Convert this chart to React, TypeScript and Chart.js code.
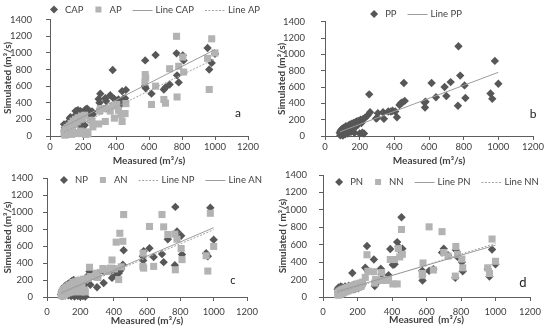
import React, { useEffect, useRef } from 'react';
import { Chart, registerables } from 'chart.js';

Chart.register(...registerables);

// ---------------- DATA ----------------
const measured = [
  85, 88, 90, 92, 95, 98, 100, 103, 106, 110,
  113, 116, 120, 124, 128, 132, 136, 140, 145, 150,
  155, 160, 165, 170, 175, 180, 185, 190, 195, 200,
  205, 210, 215, 220, 225, 230,
  245, 255, 260, 295, 300, 305, 335, 340, 365, 380,
  390, 405, 415, 430, 437, 445, 455, 460, 575, 577,
  580, 615, 640, 690, 700, 725, 767, 770, 780, 805,
  810, 955, 965, 980, 1000,
];

const simCAP = [
  140, 60, 100, 80, 120, 50, 90, 150, 70, 130,
  60, 170, 215, 225, 140, 100, 180, 160, 200, 240,
  300, 250, 305, 310, 260, 120, 300, 110, 125, 135,
  280, 130, 320, 300, 330, 260,
  250, 295, 260, 445, 400, 510, 455, 420, 490, 795,
  445, 425, 440, 380, 540, 450, 455, 555, 600, 910,
  575, 510, 975, 560, 585, 620, 995, 730, 645, 970,
  910, 1060, 800, 880, 990,
];
const simAP = [
  40, 20, 60, 10, 80, 30, 50, 100, 20, 70,
  40, 120, 30, 90, 150, 20, 60, 180, 40, 140,
  200, 30, 170, 220, 30, 200, 60, 240, 30, 210,
  40, 250, 20, 50, 30, 25,
  190, 180, 110, 145, 300, 330, 175, 330, 300, 360,
  215, 380, 310, 260, 175, 270, 270, 390, 650, 740,
  700, 380, 600, 440, 395, 810, 1200, 470, 840, 950,
  770, 935, 560, 1170, 1000,
];
const simPP = [
  40, 10, 60, 20, 80, 30, 70, 5, 100, 40,
  90, 20, 120, 60, 110, 30, 130, 80, 140, 50,
  150, 100, 160, 40, 170, 120, 180, 140, 185, 30,
  200, 160, 40, 210, 30, 220,
  250, 510, 290, 215, 220, 280, 290, 210, 300, 300,
  310, 300, 230, 380, 400, 410, 650, 430, 410, 350,
  420, 650, 475, 600, 490, 660, 370, 1100, 740, 620,
  465, 520, 455, 920, 640,
];
const simNP = [
  30, 60, 10, 80, 40, 100, 20, 120, 60, 130,
  30, 140, 80, 150, 20, 160, 100, 170, 10, 190,
  120, 200, 5, 160, 140, 180, 10, 170, 150, 5,
  190, 130, 10, 200, 140, 5,
  250, 300, 145, 260, 115, 280, 310, 165, 310, 300,
  225, 330, 260, 280, 305, 330, 380, 550, 480, 430,
  540, 575, 470, 505, 410, 680, 375, 1060, 770, 720,
  500, 515, 480, 1050, 675,
];
const simAN = [
  20, 50, 30, 70, 10, 40, 90, 60, 30, 110,
  70, 40, 120, 90, 50, 140, 110, 60, 150, 80,
  170, 120, 60, 180, 100, 70, 190, 130, 80, 200,
  60, 150, 70, 210, 80, 60,
  220, 350, 240, 280, 250, 230, 335, 320, 300, 340,
  435, 330, 645, 205, 750, 355, 655, 970, 360, 515,
  340, 830, 360, 970, 825, 735, 740, 320, 680, 570,
  440, 485, 305, 985, 595,
];
const simPN = [
  90, 60, 110, 40, 80, 100, 50, 120, 70, 90,
  110, 60, 100, 80, 120, 90, 70, 110, 100, 130,
  80, 120, 110, 275, 100, 140, 90, 130, 110, 150,
  100, 140, 120, 160, 130, 150,
  335, 585, 300, 430, 125, 150, 325, 260, 200, 250,
  550, 370, 375, 630, 580, 540, 915, 555, 300, 190,
  290, 300, 320, 510, 555, 480, 220, 540, 460, 400,
  295, 320, 235, 545, 375,
];
const simNN = [
  30, 50, 20, 60, 40, 70, 30, 50, 80, 40,
  60, 90, 50, 70, 100, 60, 80, 110, 70, 90,
  120, 80, 100, 130, 90, 110, 140, 100, 120, 150,
  110, 130, 160, 120, 140, 170,
  225, 485, 295, 290, 160, 200, 190, 280, 190, 200,
  430, 150, 430, 150, 555, 460, 775, 490, 250, 270,
  390, 805, 310, 750, 510, 470, 240, 580, 490, 435,
  335, 335, 270, 665, 410,
];

// trend line end points (measured range)
const lineX = [85, 1000];
const lineCAP = [113, 1040];
const lineAP = [45, 930];
const linePP = [50, 780];
const lineNP = [40, 790];
const lineAN = [50, 815];
const linePN = [65, 595];
const lineNN = [50, 615];

const xTicks = { min: 0, max: 1200, step: 200 };
const yTicks = { min: 0, max: 1400, step: 200 };

// ---------------- STYLE ----------------
const FONT = 'Lato';
const DARK = '#575757';
const LIGHT = '#b3b3b3';
const LINE_SOLID = '#9c9c9c';
const LINE_DOT = '#a3a3a3';
const AXIS = '#5e5e5e';
const TEXT = '#404040';
const W = 550;
const H = 329;

type Series = { label: string; values: number[]; kind: 'diamond' | 'square' };
type TLine = { label: string; ends: number[]; dotted: boolean };
type PanelCfg = {
  series: Series[];
  lines: TLine[];
  area: { left: number; right: number; top: number; bottom: number };
  yAxisW: number;
  xAxisH: number;
  yTickPad: number;
  xTickPad: number;
  yTitle: string;
  xTitle: string;
  legend: { cx: number; cy: number };
  letter: { text: string; x: number; y: number; size: number };
};

const panels: PanelCfg[] = [
  {
    series: [
      { label: 'CAP', values: simCAP, kind: 'diamond' },
      { label: 'AP', values: simAP, kind: 'square' },
    ],
    lines: [
      { label: 'Line CAP', ends: lineCAP, dotted: false },
      { label: 'Line AP', ends: lineAP, dotted: true },
    ],
    area: { left: 50, right: 248, top: 7, bottom: 136 },
    yAxisW: 48, xAxisH: 31, yTickPad: 14, xTickPad: 1,
    yTitle: 'Simulated (m³/s)', xTitle: 'Measured (m³/s)',
    legend: { cx: 155, cy: 9.5 },
    letter: { text: 'a', x: 238, y: 113, size: 12 },
  },
  {
    series: [{ label: 'PP', values: simPP, kind: 'diamond' }],
    lines: [{ label: 'Line PP', ends: linePP, dotted: false }],
    area: { left: 325, right: 533, top: 7, bottom: 136 },
    yAxisW: 49, xAxisH: 31, yTickPad: 16, xTickPad: 1,
    yTitle: 'Simulated (m³/s)', xTitle: 'Measured (m³/s)',
    legend: { cx: 416, cy: 14 },
    letter: { text: 'b', x: 533, y: 114, size: 12 },
  },
  {
    series: [
      { label: 'NP', values: simNP, kind: 'diamond' },
      { label: 'AN', values: simAN, kind: 'square' },
    ],
    lines: [
      { label: 'Line NP', ends: lineNP, dotted: true },
      { label: 'Line AN', ends: lineAN, dotted: false },
    ],
    area: { left: 47, right: 247, top: 178, bottom: 297 },
    yAxisW: 45, xAxisH: 30, yTickPad: 10, xTickPad: 5,
    yTitle: 'Simulated (m³/s)', xTitle: 'Measured (m³/s)',
    legend: { cx: 161, cy: 180 },
    letter: { text: 'c', x: 233, y: 280, size: 11 },
  },
  {
    series: [
      { label: 'PN', values: simPN, kind: 'diamond' },
      { label: 'NN', values: simNN, kind: 'square' },
    ],
    lines: [
      { label: 'Line PN', ends: linePN, dotted: false },
      { label: 'Line NN', ends: lineNN, dotted: true },
    ],
    area: { left: 323, right: 530, top: 175, bottom: 297 },
    yAxisW: 46, xAxisH: 29, yTickPad: 12, xTickPad: 5,
    yTitle: 'Simulated ( m³/s)', xTitle: 'Measured  (m³/s)',
    legend: { cx: 437, cy: 182 },
    letter: { text: 'd', x: 523, y: 283, size: 13 },
  },
];

// ---------------- PLUGINS ----------------
const panelLegend = {
  id: 'panelLegend',
  afterDraw(chart: any, _args: any, opts: any) {
    const { ctx } = chart;
    ctx.save();
    ctx.font = `${opts.fontSize}px ${FONT}`;
    ctx.textBaseline = 'middle';
    ctx.textAlign = 'left';
    const GAP = 11;
    const items = chart.data.datasets.map((ds: any) => {
      const isLine = !!ds.showLine;
      const mw = isLine ? 20 : 8;
      const gap = isLine ? 3 : 7;
      const tw = ctx.measureText(ds.label).width;
      return { ds, isLine, mw, gap, w: mw + gap + tw };
    });
    const total = items.reduce((s: number, it: any) => s + it.w, 0) + GAP * (items.length - 1);
    let x = opts.cx - total / 2;
    const y = opts.cy;
    for (const it of items) {
      const ds = it.ds;
      if (it.isLine) {
        ctx.beginPath();
        ctx.strokeStyle = ds.borderColor;
        ctx.lineWidth = ds.borderWidth;
        ctx.setLineDash(ds.borderDash || []);
        ctx.moveTo(x, Math.round(y) + 0.5);
        ctx.lineTo(x + it.mw, Math.round(y) + 0.5);
        ctx.stroke();
        ctx.setLineDash([]);
      } else if (ds.pointStyle === 'rectRot') {
        const cx = x + it.mw / 2;
        const r = 4;
        ctx.beginPath();
        ctx.moveTo(cx, y - r);
        ctx.lineTo(cx + r, y);
        ctx.lineTo(cx, y + r);
        ctx.lineTo(cx - r, y);
        ctx.closePath();
        ctx.fillStyle = ds.backgroundColor;
        ctx.fill();
      } else {
        ctx.fillStyle = ds.backgroundColor;
        ctx.fillRect(x + 1, y - 3, 6, 6);
      }
      ctx.fillStyle = opts.color;
      ctx.fillText(ds.label, x + it.mw + it.gap, y);
      x += it.w + GAP;
    }
    ctx.restore();
  },
};

const panelLetter = {
  id: 'panelLetter',
  afterDraw(chart: any, _args: any, opts: any) {
    const { ctx } = chart;
    ctx.save();
    ctx.font = `${opts.size}px ${FONT}`;
    ctx.fillStyle = opts.color;
    ctx.textAlign = 'center';
    ctx.textBaseline = 'middle';
    ctx.fillText(opts.text, opts.x, opts.y);
    ctx.restore();
  },
};

function buildDatasets(cfg: PanelCfg) {
  const pts = (vals: number[]) => measured.map((m, i) => ({ x: m, y: vals[i] }));
  const ds: any[] = cfg.series.map((s) => ({
    label: s.label,
    data: pts(s.values),
    pointStyle: s.kind === 'diamond' ? 'rectRot' : 'rect',
    pointRadius: s.kind === 'diamond' ? 4.2 : 5,
    backgroundColor: s.kind === 'diamond' ? DARK : LIGHT,
    borderColor: s.kind === 'diamond' ? DARK : LIGHT,
    pointBorderWidth: 0,
    borderWidth: 0,
    showLine: false,
    clip: false,
    order: s.kind === 'diamond' ? 3 : 2,
  }));
  cfg.lines.forEach((l) => {
    ds.push({
      label: l.label,
      data: lineX.map((x, i) => ({ x, y: l.ends[i] })),
      showLine: true,
      pointRadius: 0,
      borderColor: l.dotted ? LINE_DOT : LINE_SOLID,
      borderWidth: 1,
      borderDash: l.dotted ? [2, 1.5] : [],
      fill: false,
      clip: false,
      order: 1,
    });
  });
  return ds;
}

const plain = (v: any) => String(v);

function Panel({ cfg }: { cfg: PanelCfg }) {
  const ref = useRef<HTMLCanvasElement>(null);
  useEffect(() => {
    const a = cfg.area;
    const chart = new Chart(ref.current as HTMLCanvasElement, {
      type: 'scatter',
      data: { datasets: buildDatasets(cfg) },
      options: {
        animation: false,
        responsive: false,
        devicePixelRatio: 1,
        layout: {
          padding: {
            left: a.left - cfg.yAxisW,
            top: a.top,
            right: W - a.right,
            bottom: H - a.bottom - cfg.xAxisH,
          },
        },
        plugins: {
          legend: { display: false },
          tooltip: { enabled: false },
          panelLegend: { cx: cfg.legend.cx, cy: cfg.legend.cy, fontSize: 9.5, color: TEXT },
          panelLetter: { ...cfg.letter, color: '#222222' },
        } as any,
        scales: {
          x: {
            type: 'linear',
            min: xTicks.min,
            max: xTicks.max,
            ticks: {
              stepSize: xTicks.step,
              color: TEXT,
              font: { family: FONT, size: 9.5 },
              padding: cfg.xTickPad,
              maxRotation: 0,
              autoSkip: false,
              callback: plain,
            },
            grid: { drawOnChartArea: false, drawTicks: true, tickLength: 4, color: AXIS },
            border: { display: true, color: AXIS, width: 1 },
            title: {
              display: true,
              text: cfg.xTitle,
              color: TEXT,
              font: { family: FONT, size: 10, weight: 'bold' },
              padding: 0,
            },
            afterFit: (s: any) => {
              s.height = cfg.xAxisH;
            },
          },
          y: {
            type: 'linear',
            min: yTicks.min,
            max: yTicks.max,
            ticks: {
              stepSize: yTicks.step,
              color: TEXT,
              font: { family: FONT, size: 9.5 },
              padding: cfg.yTickPad,
              autoSkip: false,
              callback: plain,
            },
            grid: { drawOnChartArea: false, drawTicks: true, tickLength: 4, color: AXIS },
            border: { display: true, color: AXIS, width: 1 },
            title: {
              display: true,
              text: cfg.yTitle,
              color: TEXT,
              font: { family: FONT, size: 10, weight: 'bold' },
              padding: 0,
            },
            afterFit: (s: any) => {
              s.width = cfg.yAxisW;
            },
          },
        } as any,
      },
      plugins: [panelLegend, panelLetter],
    } as any);
    return () => chart.destroy();
  }, [cfg]);
  return (
    <canvas
      ref={ref}
      width={W}
      height={H}
      style={{ position: 'absolute', left: 0, top: 0, width: W, height: H }}
    />
  );
}

export default function App() {
  useEffect(() => {
    document.body.style.margin = '0';
  }, []);
  return (
    <div style={{ position: 'fixed', left: 0, top: 0, width: W, height: H, background: '#ffffff' }}>
      {panels.map((p, i) => (
        <Panel key={i} cfg={p} />
      ))}
    </div>
  );
}
